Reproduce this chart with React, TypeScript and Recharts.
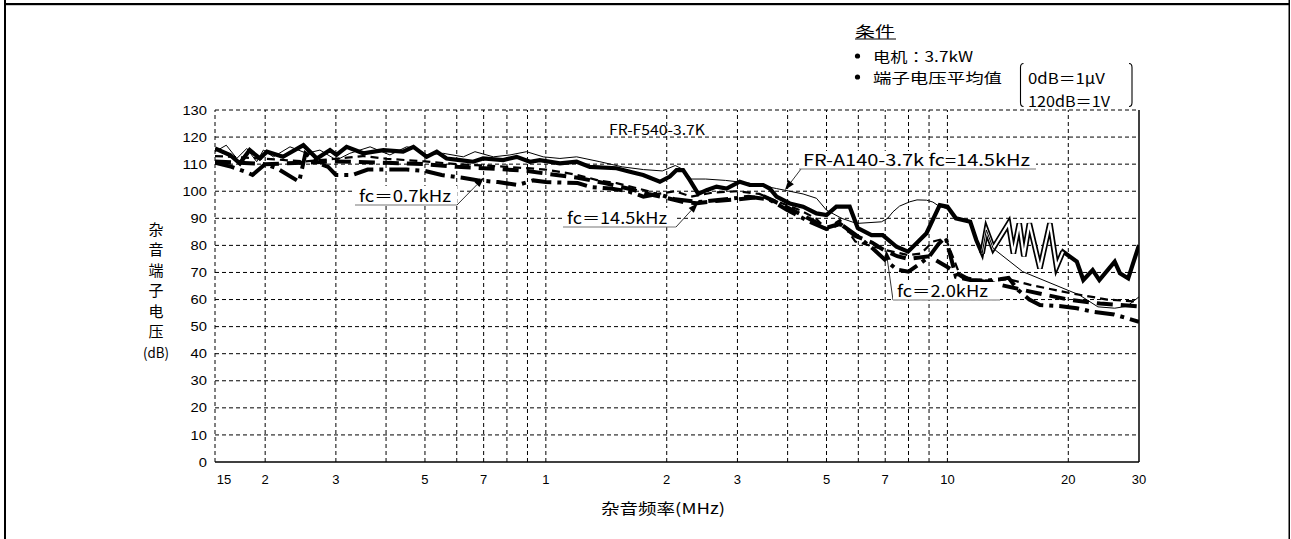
import React from 'react';
import { LineChart, Line, XAxis, YAxis, ReferenceLine } from 'recharts';

// ---------- axes ----------
const xTickValues = [0.15, 0.2, 0.3, 0.5, 0.7, 1, 2, 3, 5, 7, 10, 20, 30];
const xTickLabels = ['15', '2', '3', '5', '7', '1', '2', '3', '5', '7', '10', '20', '30'];
const xGridValues = [0.2, 0.3, 0.4, 0.5, 0.6, 0.7, 0.8, 0.9, 1, 2, 3, 4, 5, 6, 7, 8, 9, 10, 20];
const yTickValues = [0, 10, 20, 30, 40, 50, 60, 70, 80, 90, 100, 110, 120, 130];

// ---------- series: FR-F540-3.7K (thick solid) ----------
const f540Freq = [0.15, 0.1635, 0.173, 0.183, 0.194, 0.202, 0.2215, 0.249, 0.269, 0.29, 0.301, 0.319, 0.351, 0.394, 0.441, 0.468, 0.505, 0.535, 0.566, 0.611, 0.659, 0.698, 0.783, 0.846, 0.913, 0.966, 1.084, 1.193, 1.287, 1.5, 1.619, 1.747, 1.923, 2.036, 2.116, 2.197, 2.283, 2.396, 2.513, 2.661, 2.818, 3.04, 3.22, 3.476, 3.61, 3.753, 4.05, 4.37, 4.72, 5.0, 5.29, 5.71, 5.98, 6.47, 6.9, 7.47, 7.98, 8.87, 9.57, 10.0, 10.5, 11.4, 11.8, 12.2, 12.5, 13.0, 14.2, 14.6, 15.1, 15.5, 16.0, 17.0, 18.0, 18.7, 19.4, 21.0, 21.8, 23.0, 23.9, 26.1, 26.9, 28.2, 30];
const f540Db = [115.8, 113.4, 110.3, 115.2, 112.1, 114.6, 112.7, 117, 112.1, 115.2, 113.4, 116.4, 114, 115.2, 114.6, 116.4, 112.7, 114.6, 112.1, 111.5, 110.9, 112.1, 111.5, 112.7, 110.9, 111.5, 110.3, 110.9, 109, 108.5, 107.2, 106, 103.5, 105.4, 107.8, 107.8, 104.1, 99, 100.4, 101.7, 101, 103.5, 102.3, 102.3, 101, 98, 95.5, 94.3, 91.8, 91.2, 94.3, 94.3, 86.4, 83.8, 83.8, 79.5, 77.7, 84.5, 94.9, 94.3, 90, 88.7, 82, 77, 85.7, 78.9, 88.1, 77, 88.1, 76, 88.1, 71.5, 88.1, 72.1, 77.7, 74, 67.2, 70.9, 67.2, 74, 69.7, 67.8, 80.1];

// ---------- series: FR-A140-3.7k fc=14.5kHz (thin solid) ----------
const a140Freq = [0.15, 0.16, 0.17, 0.18, 0.1905, 0.198, 0.2096, 0.2306, 0.2538, 0.2738, 0.301, 0.325, 0.365, 0.409, 0.45, 0.477, 0.505, 0.555, 0.623, 0.666, 0.74, 0.814, 0.895, 0.985, 1.084, 1.193, 1.363, 1.55, 1.75, 1.95, 2.1, 2.2, 2.3, 2.5, 2.8, 3.2, 3.75, 4.37, 4.72, 5.0, 5.45, 5.94, 6.85, 7.1, 7.32, 7.6, 8.06, 8.4, 8.87, 9.2, 9.57, 10.0, 10.5, 11.4, 11.8, 12.2, 12.5, 13.0, 15.4, 21.3, 23.7, 26.1, 28, 30];
const a140Db = [114.6, 117, 112.1, 115.8, 110.9, 115.2, 112.7, 116.4, 114, 115.2, 111.5, 114, 116.4, 113.4, 116.4, 115.8, 113.4, 114, 112.7, 114.6, 112.7, 113.4, 114.6, 112.7, 112.1, 112.7, 110.9, 109, 108, 107.5, 109.5, 108, 104.5, 104.5, 104, 103, 101, 99, 97.4, 93, 90, 88.1, 88.7, 90, 92.4, 94.5, 96.1, 96.8, 96.7, 96, 94.3, 93.5, 90, 88.7, 82, 77, 85.7, 78.9, 70.3, 61.7, 57.3, 56.8, 57.5, 61];

// ---------- series: fc=0.7kHz (thick dash-dot) ----------
const fc07Freq = [0.15, 0.165, 0.18, 0.186, 0.2, 0.214, 0.243, 0.252, 0.275, 0.287, 0.3, 0.33, 0.36, 0.4, 0.45, 0.5, 0.55, 0.62, 0.68, 0.76, 0.85, 0.93, 1.0, 1.2, 1.3, 1.45, 1.6, 1.75, 1.9, 2.1, 2.4, 2.8, 3.2, 3.6, 4.0, 4.5, 5.0, 5.4, 5.9, 6.5, 7.0, 7.5, 8.0, 8.5, 9.0, 9.5, 9.9, 10.5, 11.4, 12.5, 13.5, 14.2, 15.0, 16.0, 17.0, 19.0, 21.0, 23.0, 26.0, 30];
const fc07Db = [110.5, 109, 107, 106, 110, 108.5, 103.5, 114, 110, 109, 106, 106, 108, 108, 108, 107.5, 106, 105, 104, 103.4, 102.3, 104, 103.4, 103, 101.5, 101, 100, 98, 99, 97, 96, 97, 98, 97, 93, 89, 86, 88, 84, 79, 74.6, 71, 70.3, 73, 75.8, 80.5, 83, 68.4, 67.2, 67, 67.5, 68, 63.5, 60, 58, 57.6, 56.8, 55.5, 54.5, 51.8];

// ---------- series: fc=2.0kHz (medium dashed) ----------
const fc20Freq = [0.15, 0.2, 0.25, 0.3, 0.35, 0.4, 0.5, 0.6, 0.7, 0.8, 0.9, 1.0, 1.1, 1.2, 1.35, 1.5, 1.7, 1.9, 2.1, 2.3, 2.6, 3.0, 3.4, 3.8, 4.3, 4.7, 5.0, 5.4, 5.9, 6.4, 7.0, 8.0, 8.6, 9.2, 9.9, 10.7, 11.5, 13.0, 14.2, 16, 20, 25, 30];
const fc20Db = [113, 112, 111, 112, 113, 112, 111, 110, 109.5, 109, 108.5, 108, 107, 106, 104, 103, 101, 99, 100, 98, 99.5, 100, 99, 96, 93, 90, 86, 89.4, 81.4, 80, 78.3, 76.4, 77, 81.4, 82.6, 69.7, 67.2, 67, 67.5, 65.5, 62.5, 60, 59.2];

// ---------- series: fc=14.5kHz (thick long dash) ----------
const fc145Freq = [0.15, 0.2, 0.3, 0.4, 0.5, 0.6, 0.7, 0.8, 0.9, 1.0, 1.2, 1.4, 1.6, 1.8, 2.0, 2.2, 2.38, 2.7, 3.0, 3.5, 4.0, 4.5, 5.0, 5.4, 5.9, 6.5, 7.0, 7.5, 8.0, 9.0, 10.0, 11.0, 13.0, 16.0, 20.0, 24.0, 30];
const fc145Db = [111, 110, 111, 110.5, 110, 109, 108.5, 108, 107.5, 106.5, 105, 103, 101, 99, 97.5, 96, 95.6, 96.5, 97, 98, 94, 90, 86.5, 88, 83.5, 81, 78, 76, 75, 76, 72, 68, 66, 63, 60, 58.5, 57.5];

const toData = (fs: number[], vs: number[]) => fs.map((f, i) => ({ f, v: vs[i] }));
const f540Data = toData(f540Freq, f540Db);
const f540Core = f540Data.filter((d) => d.f >= 12.2 && d.f <= 19.4);
const a140Data = toData(a140Freq, a140Db);
const fc07Data = toData(fc07Freq, fc07Db);
const fc20Data = toData(fc20Freq, fc20Db);
const fc145Data = toData(fc145Freq, fc145Db);

const GOTHIC = "'Noto Sans CJK JP', 'Noto Sans CJK SC', sans-serif";
const ARIAL = "'Liberation Sans', Arial, sans-serif";

const XTick = (props: any) => {
  const { x, y, payload } = props;
  const i = xTickValues.indexOf(payload.value);
  return (
    <text x={x} y={y} dx={i === 0 ? 9 : 0} dy={22} textAnchor="middle" fontFamily={ARIAL} fontSize={13} fill="#000">
      {i >= 0 ? xTickLabels[i] : ''}
    </text>
  );
};

const YTick = (props: any) => {
  const { x, y, payload } = props;
  const s = String(payload.value);
  return (
    <text x={x - 8} y={y} dy={4.6} textAnchor="end" fontFamily={ARIAL} fontSize={13} fill="#000"
      textLength={s.length * 8.2} lengthAdjust="spacingAndGlyphs">
      {s}
    </text>
  );
};

const Arrow = ({ x1, y1, x2, y2 }: { x1: number; y1: number; x2: number; y2: number }) => {
  const dx = x2 - x1, dy = y2 - y1;
  const L = Math.hypot(dx, dy);
  const ux = dx / L, uy = dy / L;
  const len = 10, w = 3.5;
  const bx = x2 - ux * len, by = y2 - uy * len;
  const pts = `${x2},${y2} ${bx - uy * w},${by + ux * w} ${bx + uy * w},${by - ux * w}`;
  return (
    <g>
      <line x1={x1} y1={y1} x2={bx} y2={by} stroke="#333" strokeWidth={1} />
      <polygon points={pts} fill="#000" />
    </g>
  );
};

const Label = ({ x, y, w, h, text, tl, fs }: { x: number; y: number; w: number; h: number; text: string; tl: number; fs: number }) => (
  <g>
    <rect x={x} y={y} width={w} height={h} fill="#fff" />
    <line x1={x} y1={y + h} x2={x + w} y2={y + h} stroke="#777" strokeWidth={1.2} />
    <text x={x + 4} y={y + h - 3} fontFamily={GOTHIC} fontSize={fs} fill="#000" textLength={tl} lengthAdjust="spacingAndGlyphs">
      {text}
    </text>
  </g>
);

const yLabelChars = ['杂', '音', '端', '子', '电', '压', '(dB)'];

export default function App() {
  const grid = { stroke: '#000', strokeWidth: 1, strokeDasharray: '4 3' };
  return (
    <div style={{ position: 'absolute', left: 0, top: 0, width: 1291, height: 539, background: '#fff' }}>
      <LineChart width={1291} height={539} margin={{ top: 110, right: 152, bottom: 37, left: 155 }}>
        <XAxis dataKey="f" type="number" scale="log" domain={[0.15, 30]} allowDataOverflow ticks={xTickValues}
          interval={0} tickLine={false} axisLine={false} tickSize={0} tickMargin={0} height={40}
          tick={(p: any) => <XTick {...p} />} />
        <YAxis type="number" domain={[0, 130]} ticks={yTickValues} interval={0} tickLine={false} axisLine={false}
          tickSize={0} tickMargin={0} width={60} tick={(p: any) => <YTick {...p} />} />
        {yTickValues.filter((v) => v > 0).map((v) => (
          <ReferenceLine key={'h' + v} y={v} {...grid} />
        ))}
        {xGridValues.map((v) => (
          <ReferenceLine key={'v' + v} x={v} {...grid} />
        ))}
        <ReferenceLine x={0.15} {...grid} />
        <ReferenceLine x={30} stroke="#000" strokeWidth={1.5} />
        <ReferenceLine y={0} stroke="#000" strokeWidth={1.5} />
        <Line data={fc20Data} dataKey="v" type="linear" stroke="#000" strokeWidth={2.2} strokeDasharray="8 5" dot={false} isAnimationActive={false} />
        <Line data={fc145Data} dataKey="v" type="linear" stroke="#000" strokeWidth={4} strokeDasharray="16 8" dot={false} isAnimationActive={false} />
        <Line data={fc07Data} dataKey="v" type="linear" stroke="#000" strokeWidth={4} strokeDasharray="20 6 4 6" dot={false} isAnimationActive={false} />
        <Line data={f540Data} dataKey="v" type="linear" stroke="#000" strokeWidth={4.2} dot={false} isAnimationActive={false} />
        <Line data={f540Core} dataKey="v" type="linear" stroke="#000" strokeWidth={5.6} dot={false} isAnimationActive={false} />
        <Line data={f540Core} dataKey="v" type="linear" stroke="#fff" strokeWidth={2.2} dot={false} isAnimationActive={false} />
        <Line data={a140Data} dataKey="v" type="linear" stroke="#000" strokeWidth={1} dot={false} isAnimationActive={false} />
      </LineChart>

      <svg width={1291} height={539} style={{ position: 'absolute', left: 0, top: 0, pointerEvents: 'none' }}>
        {/* frame */}
        <rect x={4} y={0} width={2} height={539} fill="#000" />
        <rect x={1288.5} y={0} width={1.5} height={539} fill="#000" />
        <rect x={4} y={3} width={1286} height={2.2} fill="#000" />

        {/* conditions */}
        <text x={855} y={36.5} fontFamily={GOTHIC} fontSize={15} fill="#000" textLength={40} lengthAdjust="spacingAndGlyphs">条件</text>
        <line x1={855} y1={39} x2={896} y2={39} stroke="#000" strokeWidth={1.2} />
        <circle cx={857.5} cy={56} r={2.6} fill="#000" />
        <text x={873} y={61.5} fontFamily={GOTHIC} fontSize={14} fill="#000" textLength={100} lengthAdjust="spacingAndGlyphs">电机：3.7kW</text>
        <circle cx={857.5} cy={77} r={2.6} fill="#000" />
        <text x={873} y={83} fontFamily={GOTHIC} fontSize={14} fill="#000" textLength={129} lengthAdjust="spacingAndGlyphs">端子电压平均值</text>
        <path d="M1023.5,63.5 Q1020.5,63.5 1020.5,67.5 L1020.5,102.5 Q1020.5,106.5 1023.5,106.5" fill="none" stroke="#000" strokeWidth={1.1} />
        <path d="M1129,63.5 Q1132,63.5 1132,67.5 L1132,102.5 Q1132,106.5 1129,106.5" fill="none" stroke="#000" strokeWidth={1.1} />
        <text x={1028} y={84} fontFamily={GOTHIC} fontSize={15} fill="#000" textLength={77} lengthAdjust="spacingAndGlyphs">0dB＝1μV</text>
        <text x={1028} y={106.5} fontFamily={GOTHIC} fontSize={15} fill="#000" textLength={82} lengthAdjust="spacingAndGlyphs">120dB＝1V</text>

        {/* title inside plot */}
        <text x={609} y={135} fontFamily={GOTHIC} fontSize={14} fill="#000" textLength={96} lengthAdjust="spacingAndGlyphs">FR-F540-3.7K</text>

        {/* annotations */}
        <Arrow x1={457} y1={205} x2={484} y2={177.5} />
        <Label x={355} y={186} w={102} h={19} text="fc＝0.7kHz" tl={92} fs={16} />
        <Arrow x1={676} y1={227} x2={698} y2={203} />
        <Label x={563} y={208} w={113} h={19} text="fc＝14.5kHz" tl={100} fs={16} />
        <Arrow x1={801} y1={169} x2={785} y2={190} />
        <Label x={799} y={151} w={237} h={18} text="FR-A140-3.7k fc=14.5kHz" tl={227} fs={16} />
        <Arrow x1={893} y1={300} x2={886} y2={250} />
        <Label x={893} y={282} w={107} h={18} text="fc＝2.0kHz" tl={91} fs={16} />

        {/* axis titles */}
        {yLabelChars.map((c, i) => (
          <text key={c} x={156} y={234.5 + i * 20.5} textAnchor="middle" fontFamily={GOTHIC} fontSize={i === 6 ? 14 : 15} fill="#000"
            {...(i === 6 ? { textLength: 26, lengthAdjust: 'spacingAndGlyphs' } : {})}>
            {c}
          </text>
        ))}
        <text x={663} y={514} textAnchor="middle" fontFamily={GOTHIC} fontSize={15} fill="#000" textLength={124} lengthAdjust="spacingAndGlyphs">杂音频率(MHz)</text>
      </svg>
    </div>
  );
}
